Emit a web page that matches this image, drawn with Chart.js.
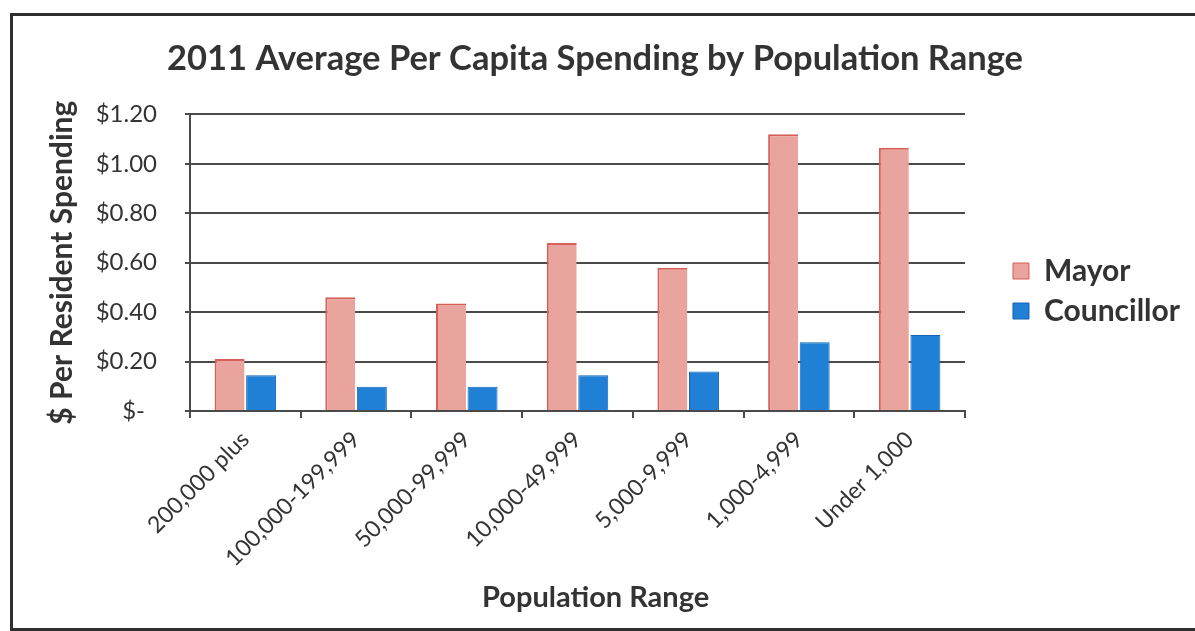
<!DOCTYPE html>
<html>
<head>
<meta charset="utf-8">
<script src="https://cdn.jsdelivr.net/npm/chart.js@4"></script>
<style>
  body { margin: 0; background: #fff; }
  #wrap { position: relative; width: 1195px; height: 631px; overflow: hidden; }
  #frame { position: absolute; left: 10px; top: 13px; width: 1200px; height: 612px;
           border: 3px solid #2f2f2f; border-right: none; pointer-events: none; }
</style>
</head>
<body>
<div id="wrap">
  <canvas id="myChart" width="1195" height="631"></canvas>
  <div id="frame"></div>
</div>
<script>
const categories = ['200,000 plus', '100,000-199,999', '50,000-99,999', '10,000-49,999',
                    '5,000-9,999', '1,000-4,999', 'Under 1,000'];
const mayor = [0.21, 0.46, 0.435, 0.68, 0.58, 1.12, 1.065];
const councillor = [0.145, 0.098, 0.098, 0.145, 0.16, 0.278, 0.307];

const ink = '#333333';
const grid = '#4a4a4a';

const ctx = document.getElementById('myChart').getContext('2d');

const config = {
    type: 'bar',
    data: {
        labels: categories,
        datasets: [{
            label: 'Mayor',
            data: mayor,
            backgroundColor: '#E9A59D',
            borderColor: '#D65F57',
            borderWidth: {left: 2, top: 2, right: 0, bottom: 0},
            categoryPercentage: 0.57,
            barPercentage: 0.95
        }, {
            label: 'Councillor',
            data: councillor,
            backgroundColor: '#1F80D6',
            borderColor: '#1462B4',
            borderWidth: 1,
            categoryPercentage: 0.57,
            barPercentage: 0.95
        }]
    },
    options: {
        responsive: false,
        animation: false,
        devicePixelRatio: 1,
        layout: {padding: {left: 0, right: 5, top: 0, bottom: 0}},
        scales: {
            x: {
                grid: {display: true, drawOnChartArea: false, color: grid, lineWidth: 2, tickLength: 7, offset: true},
                border: {color: grid, width: 2},
                ticks: {color: ink, font: {family: 'Lato', size: 23}, minRotation: 45, maxRotation: 45, padding: 8},
                title: {display: true, text: '\u2003\u2002Population Range', color: ink,
                        font: {family: 'Lato', size: 29, weight: 'bold'}, padding: {top: 16, bottom: 16}},
                afterFit: s => { s.height = 220; }
            },
            y: {
                min: 0,
                max: 1.2,
                ticks: {
                    stepSize: 0.2,
                    color: ink,
                    font: {family: 'Lato', size: 24},
                    padding: 28,
                    callback: v => v === 0 ? '$-\u2002' : '$' + v.toFixed(2)
                },
                grid: {color: grid, lineWidth: 2, tickLength: 5},
                border: {color: grid, width: 2},
                title: {display: true, text: '$ Per Resident Spending', color: ink,
                        font: {family: 'Lato', size: 30, weight: 'bold'}, padding: {top: 44, bottom: 0}},
                afterFit: s => { s.width = 190; }
            },
            yR: {
                position: 'right',
                display: true,
                grid: {display: false},
                border: {display: false},
                ticks: {display: false},
                afterFit: s => { s.width = 38; }
            }
        },
        plugins: {
            title: {
                display: true,
                text: '2011 Average Per Capita Spending by Population Range',
                color: ink,
                font: {family: 'Lato', size: 34.5, weight: 'bold'},
                padding: {top: 38, bottom: 35}
            },
            legend: {
                position: 'right',
                align: 'start',
                title: {display: true, text: '', font: {size: 10}, padding: {top: 0, bottom: 234}},
                labels: {
                    color: ink,
                    font: {family: 'Lato', size: 30, weight: 'bold'},
                    boxWidth: 16,
                    boxHeight: 16,
                    padding: 10
                }
            },
            tooltip: {enabled: false}
        }
    }
};

const myChart = new Chart(ctx, config);
</script>
</body>
</html>
